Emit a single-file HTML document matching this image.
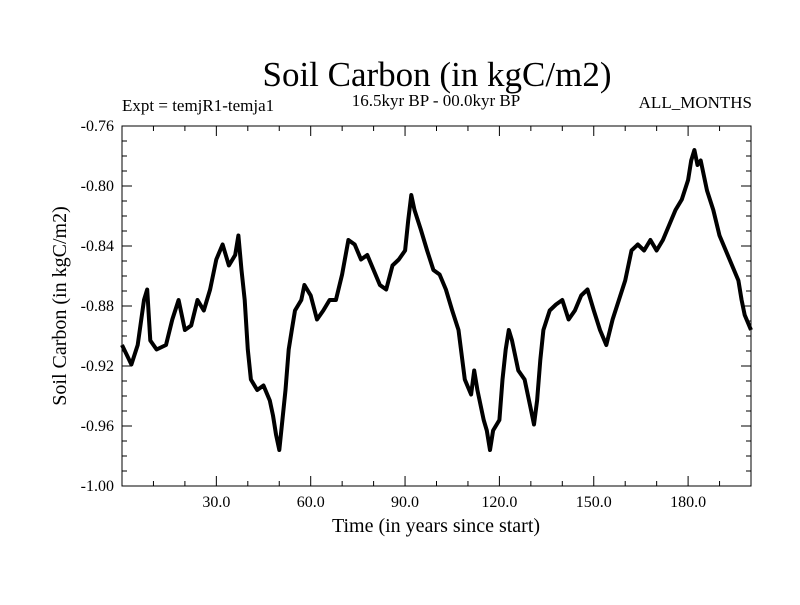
<!DOCTYPE html>
<html><head><meta charset="utf-8"><style>
body{margin:0;background:#fff}
svg text{font-family:"Liberation Serif",serif;fill:#000}
</style></head><body>
<svg id="chart" width="800" height="600" viewBox="0 0 800 600" xmlns="http://www.w3.org/2000/svg">
<rect width="800" height="600" fill="#fff"/>
<text x="437" y="86" font-size="35" text-anchor="middle">Soil Carbon (in kgC/m2)</text>
<text x="122" y="111" font-size="17">Expt = temjR1-temja1</text>
<text x="436" y="106" font-size="17" text-anchor="middle">16.5kyr BP - 00.0kyr BP</text>
<text x="752" y="108" font-size="17" text-anchor="end">ALL_MONTHS</text>
<text transform="translate(66,306) rotate(-90)" font-size="20" text-anchor="middle">Soil Carbon (in kgC/m2)</text>
<text x="436" y="532" font-size="20" text-anchor="middle">Time (in years since start)</text>
<g id="axes"></g>
<path id="series" fill="none" stroke="#000" stroke-width="4" stroke-linejoin="round"/>
<rect x="122" y="126" width="629" height="360" fill="none" stroke="#000" stroke-width="1"/>
</svg>
<script>
const years=[0,3,5,7,8,9,11,14,16,18,20,22,24,26,28,30,32,34,36,37,38,39,40,41,43,45,47,48,49,50,51,52,53,54,55,57,58,60,62,64,66,68,70,72,74,76,78,80,82,84,86,88,90,91,92,93,95,97,99,101,103,105,107,109,111,112,113,115,116,117,118,120,121,122,123,124,126,128,130,131,132,133,134,136,138,140,142,144,146,148,150,152,154,156,158,160,162,164,166,168,170,172,174,176,178,180,181,182,183,184,186,188,190,192,194,196,197,198,200];
const values=[-0.906,-0.919,-0.906,-0.876,-0.869,-0.903,-0.909,-0.906,-0.889,-0.876,-0.896,-0.893,-0.876,-0.883,-0.869,-0.849,-0.839,-0.853,-0.846,-0.833,-0.856,-0.876,-0.909,-0.929,-0.936,-0.933,-0.943,-0.953,-0.966,-0.976,-0.956,-0.936,-0.909,-0.896,-0.883,-0.876,-0.866,-0.873,-0.889,-0.883,-0.876,-0.876,-0.859,-0.836,-0.839,-0.849,-0.846,-0.856,-0.866,-0.869,-0.853,-0.849,-0.843,-0.823,-0.806,-0.816,-0.829,-0.843,-0.856,-0.859,-0.869,-0.883,-0.896,-0.929,-0.939,-0.923,-0.936,-0.956,-0.963,-0.976,-0.963,-0.956,-0.929,-0.909,-0.896,-0.903,-0.923,-0.929,-0.949,-0.959,-0.943,-0.916,-0.896,-0.883,-0.879,-0.876,-0.889,-0.883,-0.873,-0.869,-0.883,-0.896,-0.906,-0.889,-0.876,-0.863,-0.843,-0.839,-0.843,-0.836,-0.843,-0.836,-0.826,-0.816,-0.809,-0.796,-0.783,-0.776,-0.786,-0.783,-0.803,-0.816,-0.833,-0.843,-0.853,-0.863,-0.876,-0.886,-0.896];
const xTicks=[30,60,90,120,150,180];
const xTickLabels=["30.0","60.0","90.0","120.0","150.0","180.0"];
const yTicks=[-1.00,-0.96,-0.92,-0.88,-0.84,-0.80,-0.76];
const yTickLabels=["-1.00","-0.96","-0.92","-0.88","-0.84","-0.80","-0.76"];
const L=122,R=751,T=126,B=486,X0=0,X1=200,Y0=-1.0,Y1=-0.76;
const sx=v=>L+(v-X0)/(X1-X0)*(R-L);
const sy=v=>B-(v-Y0)/(Y1-Y0)*(B-T);
const NS="http://www.w3.org/2000/svg";
const g=document.getElementById('axes');
function line(x1,y1,x2,y2){const l=document.createElementNS(NS,'line');l.setAttribute('x1',x1);l.setAttribute('y1',y1);l.setAttribute('x2',x2);l.setAttribute('y2',y2);l.setAttribute('stroke','#000');l.setAttribute('stroke-width','1');


g.appendChild(l);}
for(let v=10;v<200;v+=10){const x=sx(v);const major=v%30===0;const len=major?10:5;line(x,B,x,B-len);line(x,T,x,T+len);}
for(let k=1;k<24;k++){const v=Y0+k*0.01;const y=sy(v);const major=k%4===0;const len=major?10:5;line(L,y,L+len,y);line(R,y,R-len,y);}
xTicks.forEach((v,i)=>{const t=document.createElementNS(NS,'text');t.setAttribute('x',sx(v));t.setAttribute('y',B+21);t.setAttribute('font-size','16');t.setAttribute('text-anchor','middle');t.textContent=xTickLabels[i];


g.appendChild(t);});
yTicks.forEach((v,i)=>{const t=document.createElementNS(NS,'text');t.setAttribute('x',L-8);t.setAttribute('y',sy(v)+5);t.setAttribute('font-size','16');t.setAttribute('text-anchor','end');t.textContent=yTickLabels[i];


g.appendChild(t);});
document.getElementById('series').setAttribute('d',years.map((yr,i)=>(i?'L':'M')+sx(yr).toFixed(1)+','+sy(values[i]).toFixed(1)).join(''));
</script>
</body></html>
